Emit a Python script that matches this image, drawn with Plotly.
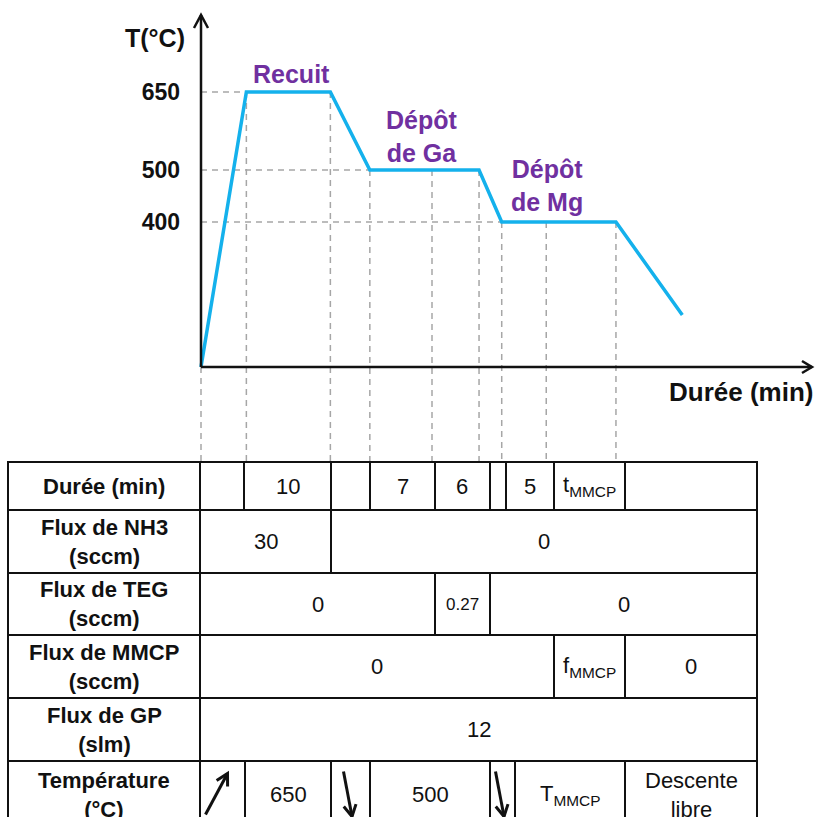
import math
import plotly.graph_objects as go

W, H = 818, 817

# ---------------- data ----------------
# temperature profile (time in min, temperature in °C)
time_min = [0, 5.4, 15.4, 20.1, 33.1, 35.8, 49.4, 57.3]
temp_c = [121, 650, 650, 500, 500, 400, 400, 221]

temp_ticks = [400, 500, 650]
# horizontal guides: level and where they stop
guide_levels = [650, 500, 400]
guide_level_ends = [15.4, 33.1, 35.8]
# vertical guides: time and temperature at which they start
guide_times = [0, 5.4, 15.4, 20.1, 27.5, 33.1, 35.8, 41.1, 49.4]
guide_tops = [121, 650, 650, 500, 500, 500, 400, 400, 400]

phase_labels = ["Recuit", "Dépôt<br>de Ga", "Dépôt<br>de Mg"]

row_labels = ["Durée (min)", "Flux de NH3<br>(sccm)", "Flux de TEG<br>(sccm)",
              "Flux de MMCP<br>(sccm)", "Flux de GP<br>(slm)", "Température<br>(°C)"]
durees = ["", "10", "", "7", "6", "", "5", "t<sub>MMCP</sub>", ""]
flux_nh3 = ["30", "0"]
flux_teg = ["0", "0.27", "0"]
flux_mmcp = ["0", "f<sub>MMCP</sub>", "0"]
flux_gp = ["12"]
temperature = ["UP", "650", "DOWN", "500", "DOWN", "T<sub>MMCP</sub>", "Descente<br>libre"]
table_rows = [durees, flux_nh3, flux_teg, flux_mmcp, flux_gp, temperature]

# ---------------- layout constants (pixels) ----------------
PX_PER_MIN = 8.4
X0_PX = 201          # t = 0
PX_PER_DEG = 0.52
Y650_PX = 92         # T = 650


def t_of(p):
    return (p - X0_PX) / PX_PER_MIN


def T_of(p):
    return 650 - (p - Y650_PX) / PX_PER_DEG


TABLE_LEFT = 8
TABLE_RIGHT = 757
ROW_Y = [462, 510, 573, 635, 698, 761, 828]
CELL_EDGES = [
    [200, 244, 331, 370, 435, 490, 506, 554, 625, 757],
    [200, 331, 757],
    [200, 435, 490, 757],
    [200, 554, 625, 757],
    [200, 757],
    [200, 245, 331, 370, 490, 515, 625, 757],
]

FONT = "Arial, Liberation Sans, sans-serif"
BLUE = "#14B1EC"
PURPLE = "#7030A0"
GREY = "#A6A6A6"
INK = "#111111"


def px(x):
    return x / W


def py(y):
    return 1 - y / H


fig = go.Figure()
fig.add_trace(go.Scatter(x=time_min, y=temp_c, mode="lines",
                         line=dict(color=BLUE, width=3.5), hoverinfo="skip"))

shapes = []
annotations = []
dash = "6px,5px"

t_min_rng, t_max_rng = t_of(188), t_of(817)
T_bot, T_top = T_of(462), T_of(8)

# horizontal dashed guides
for lvl, tend in zip(guide_levels, guide_level_ends):
    shapes.append(dict(type="line", xref="x", yref="y", x0=0, x1=tend, y0=lvl, y1=lvl,
                       line=dict(color=GREY, width=1.5, dash=dash), layer="below"))
# vertical dashed guides down to the table
for tt, top in zip(guide_times, guide_tops):
    shapes.append(dict(type="line", xref="x", yref="y", x0=tt, x1=tt, y0=top, y1=T_bot,
                       line=dict(color=GREY, width=1.5, dash=dash), layer="below"))

# axes with open arrow heads
T0 = temp_c[0]
t_tip = t_of(812)
T_tip = T_of(15)
shapes.append(dict(type="line", xref="x", yref="y", x0=0, x1=t_tip, y0=T0, y1=T0,
                   line=dict(color=INK, width=2.5)))
shapes.append(dict(type="line", xref="x", yref="y", x0=0, x1=0, y0=T0, y1=T_tip,
                   line=dict(color=INK, width=2.5)))
shapes.append(dict(type="path", xref="x", yref="y",
                   path=f"M{t_of(802)},{T_of(361)} L{t_tip},{T0} L{t_of(802)},{T_of(373)}",
                   line=dict(color=INK, width=2.5)))
shapes.append(dict(type="path", xref="x", yref="y",
                   path=f"M{t_of(194)},{T_of(28)} L0,{T_tip} L{t_of(208)},{T_of(28)}",
                   line=dict(color=INK, width=2.5)))

# chart labels
annotations.append(dict(text="<b>T(°C)</b>", x=px(155), y=py(38), xref="paper", yref="paper",
                        showarrow=False, font=dict(family=FONT, size=25, color=INK),
                        xanchor="center", yanchor="middle"))
annotations.append(dict(text="<b>Durée (min)</b>", x=px(741), y=py(392), xref="paper", yref="paper",
                        showarrow=False, font=dict(family=FONT, size=26, color=INK),
                        xanchor="center", yanchor="middle"))
phase_pos = [(291, 74), (422, 137), (547, 185)]
for lab, (lx, ly) in zip(phase_labels, phase_pos):
    annotations.append(dict(text=f"<b>{lab}</b>", x=px(lx), y=py(ly), xref="paper", yref="paper",
                            showarrow=False, font=dict(family=FONT, size=25, color=PURPLE),
                            xanchor="center", yanchor="middle"))

# table
for i in range(len(ROW_Y)):
    shapes.append(dict(type="line", xref="paper", yref="paper",
                       x0=px(TABLE_LEFT - 1), x1=px(TABLE_RIGHT + 1), y0=py(ROW_Y[i]), y1=py(ROW_Y[i]),
                       line=dict(color=INK, width=2)))
for r, edges in enumerate(CELL_EDGES):
    ytop, ybot = ROW_Y[r], ROW_Y[r + 1]
    for ex in [TABLE_LEFT] + edges:
        shapes.append(dict(type="line", xref="paper", yref="paper",
                           x0=px(ex), x1=px(ex), y0=py(ytop), y1=py(ybot),
                           line=dict(color=INK, width=2)))
    cy = (ytop + ybot) / 2
    annotations.append(dict(text=f"<b>{row_labels[r]}</b>", x=px((TABLE_LEFT + 200) / 2), y=py(cy),
                            xref="paper", yref="paper", showarrow=False,
                            font=dict(family=FONT, size=22, color=INK),
                            xanchor="center", yanchor="middle"))
    for c, txt in enumerate(table_rows[r]):
        cx = (edges[c] + edges[c + 1]) / 2
        if txt in ("UP", "DOWN"):
            if txt == "UP":
                tail, tip = (cx - 17, cy + 20), (cx + 5, cy - 21)
            else:
                tail, tip = (cx - 7, cy - 23), (cx + 1.5, cy + 22)
            ang = math.atan2(tip[1] - tail[1], tip[0] - tail[0])
            L = 13
            a1 = (tip[0] - L * math.cos(ang - 0.5), tip[1] - L * math.sin(ang - 0.5))
            a2 = (tip[0] - L * math.cos(ang + 0.5), tip[1] - L * math.sin(ang + 0.5))
            shapes.append(dict(type="line", xref="paper", yref="paper",
                               x0=px(tail[0]), y0=py(tail[1]), x1=px(tip[0]), y1=py(tip[1]),
                               line=dict(color=INK, width=3)))
            shapes.append(dict(type="path", xref="paper", yref="paper",
                               path=f"M{px(a1[0])},{py(a1[1])} L{px(tip[0])},{py(tip[1])} L{px(a2[0])},{py(a2[1])}",
                               line=dict(color=INK, width=3)))
            continue
        if not txt:
            continue
        size = 17 if txt == "0.27" else 22
        annotations.append(dict(text=txt, x=px(cx), y=py(cy), xref="paper", yref="paper",
                                showarrow=False, font=dict(family=FONT, size=size, color=INK),
                                xanchor="center", yanchor="middle"))

fig.update_layout(
    width=W, height=H, autosize=False,
    margin=dict(l=0, r=0, t=0, b=0),
    paper_bgcolor="white", plot_bgcolor="white",
    showlegend=False,
    xaxis=dict(domain=[px(188), px(817)], range=[t_min_rng, t_max_rng], visible=False, fixedrange=True),
    yaxis=dict(domain=[py(462), py(8)], range=[T_bot, T_top],
               tickvals=temp_ticks, ticktext=[f"<b>{v}</b>" for v in temp_ticks],
               tickfont=dict(family=FONT, size=23, color=INK),
               showgrid=False, zeroline=False, showline=False, ticks="",
               ticklabelstandoff=7, fixedrange=True),
    shapes=shapes, annotations=annotations,
)

fig.write_html("out.html", config={"displayModeBar": False},
               post_script="document.body.style.margin='0';document.body.style.overflow='hidden';")
